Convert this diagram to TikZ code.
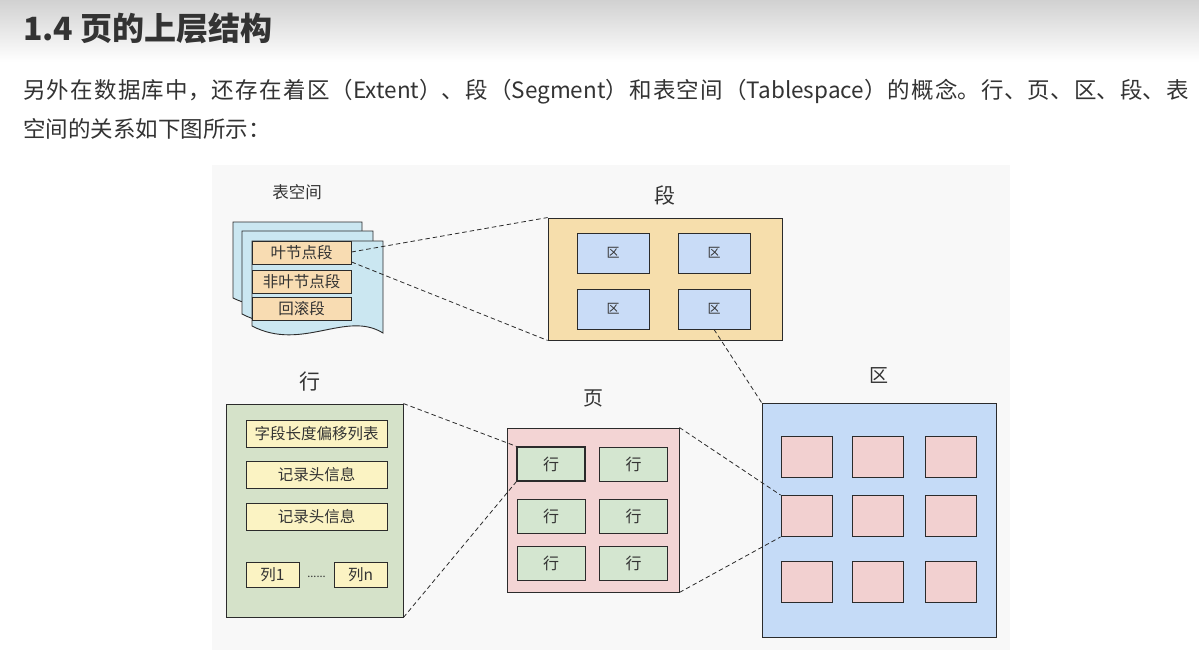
\documentclass[tikz,border=0pt]{standalone}
\usepackage{fontspec}
\setmainfont{Noto Sans CJK SC}
\usetikzlibrary{calc}
\definecolor{txt}{HTML}{333333}
\definecolor{edge}{HTML}{2B2B2B}
\definecolor{diagbg}{HTML}{F8F8F8}
\definecolor{tsblue}{HTML}{CBE7F1}
\definecolor{segorange}{HTML}{F8DCB2}
\definecolor{segbg}{HTML}{F6DEAC}
\definecolor{extsmall}{HTML}{C9DCF7}
\definecolor{rowbig}{HTML}{D5E2C9}
\definecolor{yellowbox}{HTML}{FBF3C3}
\definecolor{pagepink}{HTML}{F3D4D4}
\definecolor{rowsmall}{HTML}{D4E6D0}
\definecolor{extbig}{HTML}{C5DBF7}
\definecolor{pinkbox}{HTML}{F2D0D0}
\tikzset{
  boxbase/.style={draw=edge, line width=0.9pt, inner sep=0pt, text=txt},
  tsseg/.style={boxbase, fill=segorange, minimum width=99pt, minimum height=23pt, font=\fontsize{15.5}{18}\selectfont},
  segbox/.style={boxbase, fill=segbg, minimum width=234pt, minimum height=122pt},
  extsm/.style={boxbase, fill=extsmall, minimum width=72pt, minimum height=40pt, font=\fontsize{13}{15}\selectfont},
  rowbox/.style={boxbase, fill=rowbig, minimum width=177pt, minimum height=213pt},
  ybox/.style={boxbase, fill=yellowbox, minimum height=27pt, font=\fontsize{15.5}{18}\selectfont},
  pagebox/.style={boxbase, fill=pagepink, minimum width=172pt, minimum height=164pt},
  rowsm/.style={boxbase, fill=rowsmall, minimum width=68pt, minimum height=34pt, font=\fontsize{16}{18}\selectfont},
  extbox/.style={boxbase, fill=extbig, minimum width=234pt, minimum height=234pt},
  pinkcell/.style={boxbase, fill=pinkbox, minimum width=51pt, minimum height=41pt},
  docpage/.style={draw=edge, fill=tsblue, line width=0.9pt},
  label/.style={inner sep=0pt, text=txt},
  dashline/.style={draw=edge, line width=0.8pt, dash pattern=on 4.5pt off 3pt}
}
\begin{document}
\begin{tikzpicture}[x=1pt,y=-1pt]
\useasboundingbox (0,0) rectangle (1199,650);
\fill[white] (0,0) rectangle (1199,650);
\shade[top color=black!18, bottom color=white] (0,0) rectangle (1199,62);

% heading and paragraph
\node[anchor=base west, inner sep=0pt, text=txt, font=\fontsize{32}{38}\selectfont\bfseries] (title) at (23,41) {1.4 页的上层结构};
\node[anchor=base west, inner sep=0pt, text=txt, font=\fontsize{22.5}{26}\selectfont] (para1) at (23,99)
  {\parbox[b]{1166pt}{\XeTeXlinebreaklocale "zh"\XeTeXlinebreakskip=0pt plus 1fil\relax\parfillskip=0pt\relax\tolerance=10000\relax 另外在数据库中，还存在着区（Extent）、段（Segment）和表空间（Tablespace）的概念。行、页、区、段、表}};
\node[anchor=base west, inner sep=0pt, text=txt, font=\fontsize{22.5}{26}\selectfont] (para2) at (23,138) {空间的关系如下图所示：};

% diagram background
\fill[diagbg] (212,165) rectangle (1010,650);

% tablespace
\node[label, font=\fontsize{16.5}{19}\selectfont] (tslabel) at (297,192) {表空间};
\draw[docpage] (233,222) -- (362,222) -- (362,306) .. controls (325,284) and (282,322) .. (233,298) -- cycle;
\draw[docpage] (242,231) -- (373,231) -- (373,323) .. controls (336,300) and (292,340) .. (242,314) -- cycle;
\draw[docpage] (252,241) -- (383,241) -- (383,333) .. controls (346,310) and (302,352) .. (252,326) -- cycle;
\node[tsseg] (leaf) at (301.5,253) {叶节点段};
\node[tsseg] (nonleaf) at (301.5,282) {非叶节点段};
\node[tsseg] (rollback) at (301.5,309) {回滚段};

% segment
\node[label, font=\fontsize{21}{24}\selectfont] (seglabel) at (665,195) {段};
\node[segbox] (seg) at (665,279) {};
\node[extsm] (e1) at (613,253) {区};
\node[extsm] (e2) at (714,253) {区};
\node[extsm] (e3) at (613,309) {区};
\node[extsm] (e4) at (714,309) {区};

% row
\node[label, font=\fontsize{21}{24}\selectfont] (rowlabel) at (310,382) {行};
\node[rowbox] (row) at (314.5,510.5) {};
\node[ybox, minimum width=141pt] (fieldlen) at (316.5,434) {字段长度偏移列表};
\node[ybox, minimum width=141pt] (hdr1) at (316.5,475) {记录头信息};
\node[ybox, minimum width=141pt] (hdr2) at (316.5,516.5) {记录头信息};
\node[ybox, minimum width=53pt, minimum height=25pt] (col1) at (272.5,574.5) {列1};
\node[ybox, minimum width=53pt, minimum height=25pt] (coln) at (360.5,574.5) {列n};
\node[label, font=\fontsize{11}{13}\selectfont] (dots) at (316.5,577) {......};

% page
\node[label, font=\fontsize{20}{23}\selectfont] (pagelabel) at (593,398) {页};
\node[pagebox] (page) at (593,510) {};
\node[rowsm, line width=1.3pt] (r1) at (551,464) {行};
\node[rowsm] (r2) at (633.5,464) {行};
\node[rowsm] (r3) at (551,516) {行};
\node[rowsm] (r4) at (633.5,516) {行};
\node[rowsm] (r5) at (551,563) {行};
\node[rowsm] (r6) at (633.5,563) {行};

% extent
\node[label, font=\fontsize{19}{22}\selectfont] (extlabel) at (879,376) {区};
\node[extbox] (ext) at (879,520) {};
\node[pinkcell] (p11) at (806.5,456.5) {};
\node[pinkcell] (p12) at (878,456.5) {};
\node[pinkcell] (p13) at (950.5,456.5) {};
\node[pinkcell] (p21) at (806.5,516) {};
\node[pinkcell] (p22) at (878,516) {};
\node[pinkcell] (p23) at (950.5,516) {};
\node[pinkcell] (p31) at (806.5,582) {};
\node[pinkcell] (p32) at (878,582) {};
\node[pinkcell] (p33) at (950.5,582) {};

% connectors
\draw[dashline] ([yshift=1pt]leaf.east) -- (seg.north west);
\draw[dashline] ([yshift=3pt]leaf.south east) -- (seg.south west);
\draw[dashline] (e4.south) -- (ext.north west);
\draw[dashline] (row.north east) -- (r1.north west);
\draw[dashline] (row.south east) -- (r1.south west);
\draw[dashline] (page.north east) -- (p21.north west);
\draw[dashline] (page.south east) -- (p21.south west);
\end{tikzpicture}
\end{document}
